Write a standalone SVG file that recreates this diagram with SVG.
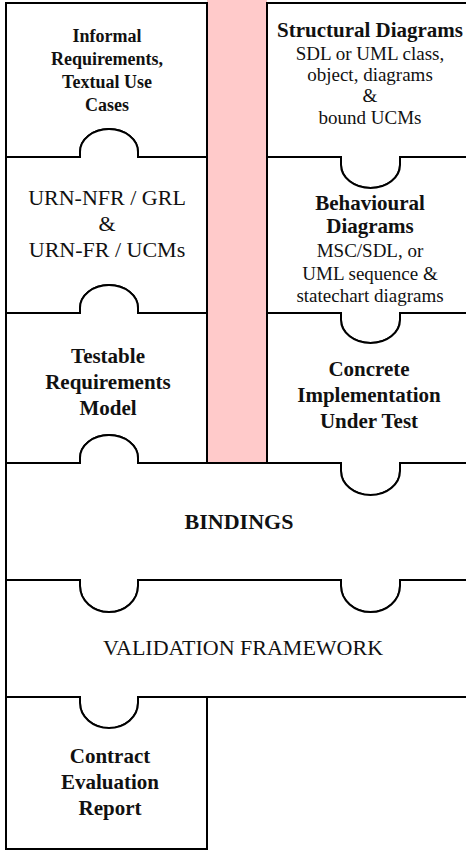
<svg xmlns="http://www.w3.org/2000/svg" width="466" height="851" viewBox="0 0 466 851">
<style>
.box{fill:#fff;stroke:#000;stroke-width:2;stroke-linejoin:miter}
text{font-family:'Liberation Serif','Tinos','DejaVu Serif',serif;fill:#111;text-anchor:middle}
.b{font-weight:bold}
</style>
<rect width="466" height="851" fill="#fff"/>
<rect id="pink-column" x="207" y="0" width="60" height="463" fill="#ffcaca"/>
<g id="informal">
<path class="box" d="M6,3 H207 V157 H138 V152 A29,23 0 0 0 80,152 V157 H6 Z"/>
<text class="b" font-size="18" x="107" y="42">Informal</text>
<text class="b" font-size="18" x="107" y="65">Requirements,</text>
<text class="b" font-size="18" x="107" y="88">Textual Use</text>
<text class="b" font-size="18" x="107" y="111">Cases</text>
</g>
<g id="urn">
<path class="box" d="M6,157 H80 V152 A29,23 0 0 1 138,152 V157 H207 V313 H138 V308 A29,23 0 0 0 80,308 V313 H6 Z"/>
<text font-size="22" x="107" y="205">URN-NFR / GRL</text>
<text font-size="22" x="107" y="231">&amp;</text>
<text font-size="22" x="107" y="257">URN-FR / UCMs</text>
</g>
<g id="testable">
<path class="box" d="M6,313 H80 V308 A29,23 0 0 1 138,308 V313 H207 V463 H138 V458 A29,23 0 0 0 80,458 V463 H6 Z"/>
<text class="b" font-size="21" x="108" y="363">Testable</text>
<text class="b" font-size="21" x="108" y="389">Requirements</text>
<text class="b" font-size="21" x="108" y="415">Model</text>
</g>
<g id="structural">
<path class="box" d="M267,3 H470 V157 H400 V165 A29.5,23 0 0 1 341,165 V157 H267 Z"/>
<text class="b" font-size="21" x="370" y="37">Structural Diagrams</text>
<text font-size="19" x="370" y="60">SDL or UML class,</text>
<text font-size="19" x="370" y="81">object, diagrams</text>
<text font-size="19" x="370" y="102">&amp;</text>
<text font-size="19" x="370" y="124">bound UCMs</text>
</g>
<g id="behavioural">
<path class="box" d="M267,157 H341 V165 A29.5,23 0 0 0 400,165 V157 H470 V313 H400 V320 A29.5,23 0 0 1 341,320 V313 H267 Z"/>
<text class="b" font-size="21" x="370" y="210">Behavioural</text>
<text class="b" font-size="21" x="370" y="233">Diagrams</text>
<text font-size="19" x="370" y="257">MSC/SDL, or</text>
<text font-size="19" x="370" y="280">UML sequence &amp;</text>
<text font-size="19" x="370" y="302">statechart diagrams</text>
</g>
<g id="concrete">
<path class="box" d="M267,313 H341 V320 A29.5,23 0 0 0 400,320 V313 H470 V463 H400 V471 A29.5,24 0 0 1 341,471 V463 H267 Z"/>
<text class="b" font-size="21" x="369" y="376">Concrete</text>
<text class="b" font-size="21" x="369" y="402">Implementation</text>
<text class="b" font-size="21" x="369" y="428">Under Test</text>
</g>
<g id="bindings">
<path class="box" d="M6,463 H80 V458 A29,23 0 0 1 138,458 V463 H341 V471 A29.5,24 0 0 0 400,471 V463 H470 V580 H400 V586 A29.5,26 0 0 1 341,586 V580 H138 V586 A29,26 0 0 1 80,586 V580 H6 Z"/>
<text class="b" font-size="22" x="239" y="529">BINDINGS</text>
</g>
<g id="validation">
<path class="box" d="M6,580 H80 V586 A29,26 0 0 0 138,586 V580 H341 V586 A29.5,26 0 0 0 400,586 V580 H470 V697 H138 V703 A29,25 0 0 1 80,703 V697 H6 Z"/>
<text font-size="22" x="243" y="655">VALIDATION FRAMEWORK</text>
</g>
<g id="contract">
<path class="box" d="M6,697 H80 V703 A29,25 0 0 0 138,703 V697 H207 V849 H6 Z"/>
<text class="b" font-size="21" x="110" y="763">Contract</text>
<text class="b" font-size="21" x="110" y="789">Evaluation</text>
<text class="b" font-size="21" x="110" y="815">Report</text>
</g>
</svg>
